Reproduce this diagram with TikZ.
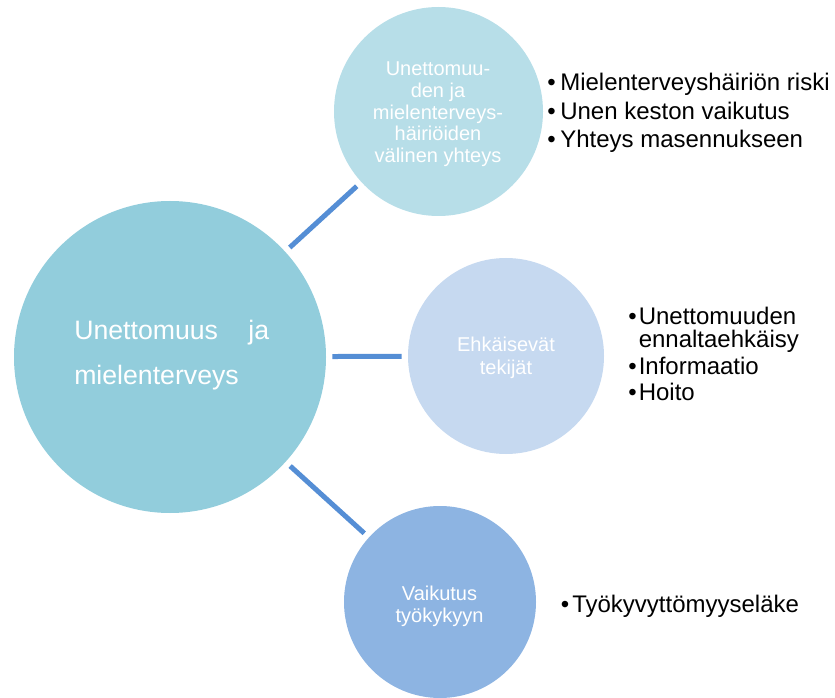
\documentclass[tikz,border=0pt]{standalone}
\usepackage{fontspec}
\setmainfont{Liberation Sans}
\definecolor{bigteal}{RGB}{146,205,220}
\definecolor{topblue}{RGB}{183,222,232}
\definecolor{midblue}{RGB}{198,217,240}
\definecolor{botblue}{RGB}{141,180,226}
\definecolor{linkblue}{RGB}{85,142,213}
\begin{document}
\begin{tikzpicture}[x=0.75pt,y=-0.75pt,
  bubble/.style={circle, inner sep=0pt, draw=none},
  intext/.style={text=white, font=\fontsize{15}{17}\selectfont, inner sep=0pt, anchor=base},
  bigtext/.style={text=white, font=\fontsize{20}{22}\selectfont, inner sep=0pt, anchor=base west},
  listtext/.style={text=black, font=\fontsize{18}{20}\selectfont, inner sep=0pt, anchor=base west},
  bulletmark/.style={text=black, font=\fontsize{18}{20}\selectfont, inner sep=0pt, anchor=base},
  link/.style={draw=linkblue, line width=3.75pt, shorten <=4.5pt, shorten >=4.5pt}]
\useasboundingbox (0,0) rectangle (835,698);

% circles
\node[bubble, fill=bigteal, minimum size=312*0.75pt] (c0) at (170,357) {};
\node[bubble, fill=topblue, minimum size=209*0.75pt] (c1) at (438.5,111.5) {};
\node[bubble, fill=midblue, minimum size=196*0.75pt] (c2) at (506,356) {};
\node[bubble, fill=botblue, minimum size=192*0.75pt] (c3) at (440,602) {};

% connectors
\draw[link] (c0) -- (c1);
\draw[link] (c0) -- (c2);
\draw[link] (c0) -- (c3);

% big circle text
\node[bigtext] (c0a) at (74,340) {\makebox[146.25pt][s]{Unettomuus ja}};
\node[bigtext] (c0b) at (74,385) {mielenterveys};

% top circle text
\node[intext] (c1a) at (438,76) {Unettomuu-};
\node[intext] (c1b) at (438,97.7) {den ja};
\node[intext] (c1c) at (438,119.3) {mielenterveys-};
\node[intext] (c1d) at (438,141) {häiriöiden};
\node[intext] (c1e) at (438,162.7) {välinen yhteys};

% middle circle text
\node[intext] (c2a) at (506,352) {Ehkäisevät};
\node[intext] (c2b) at (506,374) {tekijät};

% bottom circle text
\node[intext] (c3a) at (439.5,600) {Vaikutus};
\node[intext] (c3b) at (439.5,622.7) {työkykyyn};

% top list
\node[bulletmark] (b1a) at (551.5,91) {•};
\node[listtext] (l1a) at (560,91) {Mielenterveyshäiriön riski};
\node[bulletmark] (b1b) at (551.5,119.3) {•};
\node[listtext] (l1b) at (560,119.3) {Unen keston vaikutus};
\node[bulletmark] (b1c) at (551.5,147.5) {•};
\node[listtext] (l1c) at (560,147.5) {Yhteys masennukseen};

% middle list
\node[bulletmark] (b2a) at (632.5,325) {•};
\node[listtext] (l2a) at (638.5,325) {Unettomuuden};
\node[listtext] (l2b) at (638.5,348) {ennaltaehkäisy};
\node[bulletmark] (b2c) at (632.5,375) {•};
\node[listtext] (l2c) at (638.5,375) {Informaatio};
\node[bulletmark] (b2d) at (632.5,400.5) {•};
\node[listtext] (l2d) at (638.5,400.5) {Hoito};

% bottom list
\node[bulletmark] (b3a) at (565,612.3) {•};
\node[listtext] (l3a) at (572,612.3) {Työkyvyttömyyseläke};
\end{tikzpicture}
\end{document}
